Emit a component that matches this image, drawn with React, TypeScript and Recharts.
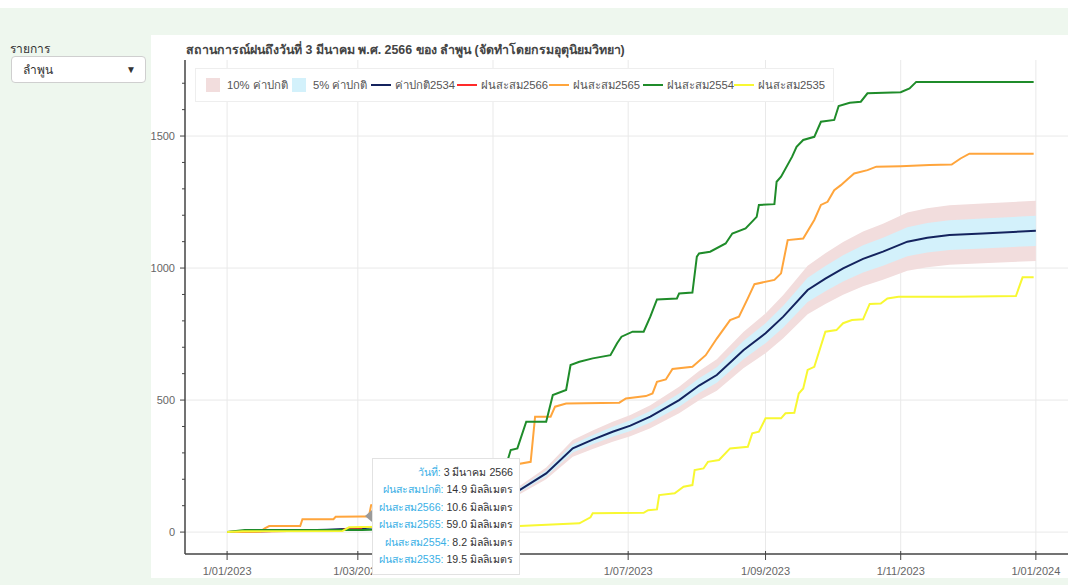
import React from "react";
import { ComposedChart, Line, Area, XAxis, YAxis, CartesianGrid } from "recharts";

// x values are day-of-year offsets from 1 Jan 2023
const xTicks = [0, 59, 120, 181, 243, 304, 365];
const xTickLabels = ["1/01/2023", "1/03/2023", "1/05/2023", "1/07/2023", "1/09/2023", "1/11/2023", "1/01/2024"];
const yTicks = [0, 100, 200, 300, 400, 500, 600, 700, 800, 900, 1000, 1100, 1200, 1300, 1400, 1500, 1600, 1700];
const yMajorTicks = [0, 500, 1000, 1500];

const normalDays = [0, 15, 31, 45, 61, 75, 90, 105, 120, 132, 144, 156, 165, 174, 182, 191, 204, 213, 221, 233, 243, 251, 262, 270, 278, 287, 296, 307, 316, 326, 341, 365];
const normalRain = [0, 3, 6, 9, 14.9, 25, 45, 75, 115, 159, 222, 317, 350, 380, 403, 437, 500, 555, 595, 689, 753, 816, 917, 960, 999, 1035, 1062, 1100, 1115, 1125, 1131, 1141];

const days2566 = [0, 10, 20, 35, 50, 53, 61];
const rain2566 = [0, 2, 3, 5, 6, 10, 10.6];

const days2565 = [0, 15, 17, 19, 33, 34, 48, 49, 61, 64, 65, 80, 95, 110, 120, 129, 137, 139, 146, 148, 153, 177, 180, 189, 192, 194, 198, 201, 210, 216, 221, 227, 231, 235, 238, 247, 250, 253, 260, 265, 268, 271, 274, 277, 280, 283, 289, 293, 304, 317, 327, 331, 335, 364];
const rain2565 = [0, 2, 14, 23, 23, 49, 49, 58, 59, 59, 102, 110, 140, 180, 220, 254, 266, 437, 437, 475, 487, 490, 506, 515, 525, 569, 578, 618, 626, 670, 733, 803, 816, 885, 939, 955, 980, 1106, 1112, 1182, 1239, 1251, 1295, 1314, 1336, 1358, 1371, 1384, 1386, 1390, 1392, 1415, 1433, 1433];

const days2554 = [0, 8, 61, 90, 110, 120, 124, 128, 131, 135, 144, 147, 153, 155, 159, 165, 173, 176, 178, 183, 188, 191, 194, 203, 204, 210, 212, 213, 218, 225, 228, 234, 239, 240, 247, 248, 250, 255, 257, 260, 265, 268, 274, 276, 281, 286, 289, 304, 308, 311, 364];
const rain2554 = [0, 8, 8.2, 15, 40, 110, 200, 311, 317, 418, 418, 519, 538, 633, 645, 658, 670, 715, 740, 759, 759, 816, 881, 885, 904, 907, 1043, 1055, 1062, 1093, 1131, 1150, 1194, 1239, 1242, 1327, 1346, 1422, 1459, 1485, 1497, 1554, 1561, 1614, 1626, 1630, 1662, 1666, 1680, 1705, 1705];

const days2535 = [0, 7, 52, 55, 61, 100, 132, 159, 164, 165, 188, 190, 194, 195, 202, 206, 210, 211, 215, 217, 222, 227, 235, 237, 240, 243, 250, 252, 256, 258, 260, 262, 265, 270, 275, 278, 282, 287, 290, 295, 298, 303, 329, 356, 359, 364];
const rain2535 = [0, 3, 4, 18, 19.5, 21, 23, 33, 56, 71, 73, 83, 86, 140, 147, 172, 178, 235, 241, 266, 273, 317, 323, 374, 380, 431, 431, 450, 452, 525, 544, 614, 626, 759, 765, 791, 803, 806, 864, 866, 885, 891, 891, 894, 965, 965];

const tipLabels = ["วันที่", "ฝนสะสมปกติ", "ฝนสะสม2566", "ฝนสะสม2565", "ฝนสะสม2554", "ฝนสะสม2535"];
const tipValues = ["3 มีนาคม 2566", "14.9 มิลลิเมตร", "10.6 มิลลิเมตร", "59.0 มิลลิเมตร", "8.2 มิลลิเมตร", "19.5 มิลลิเมตร"];

const FONT = "'Liberation Sans', Arial, sans-serif";

const toPoints = (days: number[], vals: number[]) => days.map((d, i) => ({ d, v: vals[i] }));

const bandData = normalDays.map((d, i) => {
  const n = normalRain[i];
  return { d, v: n, b10: [n * 0.9, n * 1.1], b5: [n * 0.95, n * 1.05] };
});

const legendItems = [
  { label: "10% ค่าปกติ", color: "#f2dddd", patch: true, w: 86 },
  { label: "5% ค่าปกติ", color: "#d3f1fb", patch: true, w: 79 },
  { label: "ค่าปกติ2534", color: "#14235e", patch: false, w: 86 },
  { label: "ฝนสะสม2566", color: "#ff2a2a", patch: false, w: 92 },
  { label: "ฝนสะสม2565", color: "#ffa53c", patch: false, w: 94 },
  { label: "ฝนสะสม2554", color: "#1f8c2a", patch: false, w: 91 },
  { label: "ฝนสะสม2535", color: "#f8f832", patch: false, w: 0 },
];

const XTick = (props: any) => {
  const { x, y, payload } = props;
  const label = xTickLabels[xTicks.indexOf(payload.value)];
  return (
    <g>
      <line x1={x} x2={x} y1={y - 3} y2={y + 6} stroke="#444" />
      <text x={x} y={y + 21} textAnchor="middle" fontSize={11} fill="#666" fontFamily={FONT}>
        {label}
      </text>
    </g>
  );
};

const YTick = (props: any) => {
  const { x, y, payload } = props;
  const major = yMajorTicks.includes(payload.value);
  return (
    <g>
      <line x1={x - (major ? 5 : 3)} x2={x} y1={y} y2={y} stroke="#444" />
      {major && (
        <text x={x - 10} y={y + 4} textAnchor="end" fontSize={11} fill="#666" fontFamily={FONT}>
          {payload.value}
        </text>
      )}
    </g>
  );
};

function LegendBox() {
  return (
    <div
      style={{
        position: "absolute",
        left: 44,
        top: 33,
        height: 34,
        width: 639,
        boxSizing: "border-box",
        border: "1px solid #eeeeee",
        background: "#fff",
        display: "flex",
        alignItems: "center",
        paddingLeft: 10,
        fontSize: 11.3,
        color: "#555",
        fontFamily: FONT,
        whiteSpace: "nowrap",
      }}
    >
      {legendItems.map((it) => (
        <div
          key={it.label}
          style={{ display: "flex", alignItems: "center", flex: "none", width: it.w || undefined, overflow: "visible" }}
        >
          {it.patch ? (
            <span style={{ width: 14, height: 14, background: it.color, marginRight: 7, flex: "none" }} />
          ) : (
            <span style={{ width: 20, height: 2, background: it.color, marginRight: 4, flex: "none" }} />
          )}
          <span>{it.label}</span>
        </div>
      ))}
    </div>
  );
}

function TooltipBox() {
  return (
    <div
      style={{
        position: "absolute",
        left: 221,
        top: 423,
        width: 148,
        height: 117,
        boxSizing: "border-box",
        background: "#fff",
        border: "1px solid #e2e2e2",
        padding: "5px 6px 0 4px",
        fontSize: 10.6,
        fontFamily: FONT,
        textAlign: "right",
        lineHeight: "17.4px",
      }}
    >
      <div
        style={{
          position: "absolute",
          left: -8,
          top: 51,
          width: 0,
          height: 0,
          borderTop: "6px solid transparent",
          borderBottom: "6px solid transparent",
          borderRight: "7px solid #9a9a9a",
        }}
      />
      {tipLabels.map((l, i) => (
        <div key={l} style={{ whiteSpace: "nowrap" }}>
          <span style={{ color: "#3ab0e6" }}>{l}:</span> <span style={{ color: "#333" }}>{tipValues[i]}</span>
        </div>
      ))}
    </div>
  );
}

export default function App() {
  return (
    <div style={{ position: "relative", width: 1068, height: 585, background: "#fff", fontFamily: FONT }}>
      <style>{`body{margin:0}`}</style>
      <div style={{ position: "absolute", left: 0, top: 8, width: 1068, height: 577, background: "#eef7ee" }} />
      <div style={{ position: "absolute", left: 10, top: 39, fontSize: 12, color: "#333" }}>รายการ</div>
      <div
        style={{
          position: "absolute",
          left: 11,
          top: 56,
          width: 135,
          height: 27,
          boxSizing: "border-box",
          background: "#fff",
          border: "1px solid #cfcfcf",
          borderRadius: 4,
          fontSize: 12,
          color: "#333",
          display: "flex",
          alignItems: "center",
          justifyContent: "space-between",
          padding: "0 9px 0 11px",
        }}
      >
        <span>ลำพูน</span>
        <span style={{ fontSize: 10 }}>▼</span>
      </div>

      <div style={{ position: "absolute", left: 151, top: 35, width: 917, height: 543, background: "#fff" }}>
        <div
          style={{
            position: "absolute",
            left: 35,
            top: 5,
            fontSize: 12.4,
            fontWeight: "bold",
            color: "#444",
            whiteSpace: "nowrap",
          }}
        >
          สถานการณ์ฝนถึงวันที่ 3 มีนาคม พ.ศ. 2566 ของ ลำพูน (จัดทำโดยกรมอุตุนิยมวิทยา)
        </div>
        <ComposedChart width={917} height={543} margin={{ top: 25, right: 0, bottom: 0, left: 0 }}>
          <CartesianGrid
            stroke="#e9e9e9"
            horizontalValues={yMajorTicks}
            verticalValues={xTicks}
          />
          <XAxis
            type="number"
            dataKey="d"
            domain={[-19, 379.5]}
            ticks={xTicks}
            interval={0}
            allowDataOverflow
            height={24}
            tickSize={0}
            tickMargin={0}
            tickLine={false}
            axisLine={{ stroke: "#444", strokeWidth: 1.5 }}
            tick={<XTick />}
          />
          <YAxis
            type="number"
            domain={[-83, 1788]}
            ticks={yTicks}
            interval={0}
            allowDataOverflow
            width={34}
            tickSize={0}
            tickMargin={0}
            tickLine={false}
            axisLine={{ stroke: "#444", strokeWidth: 1.5 }}
            tick={<YTick />}
          />
          <Area data={bandData} dataKey="b10" type="linear" stroke="none" fill="#f2dddd" fillOpacity={1} isAnimationActive={false} />
          <Area data={bandData} dataKey="b5" type="linear" stroke="none" fill="#d3f1fb" fillOpacity={1} isAnimationActive={false} />
          <Line data={bandData} dataKey="v" type="linear" stroke="#14235e" strokeWidth={2} dot={false} isAnimationActive={false} />
          <Line data={toPoints(days2566, rain2566)} dataKey="v" type="linear" stroke="#ff2a2a" strokeWidth={2} dot={false} isAnimationActive={false} />
          <Line data={toPoints(days2565, rain2565)} dataKey="v" type="linear" stroke="#ffa53c" strokeWidth={2} dot={false} isAnimationActive={false} />
          <Line data={toPoints(days2554, rain2554)} dataKey="v" type="linear" stroke="#1f8c2a" strokeWidth={2} dot={false} isAnimationActive={false} />
          <Line data={toPoints(days2535, rain2535)} dataKey="v" type="linear" stroke="#f8f832" strokeWidth={2} dot={false} isAnimationActive={false} />
        </ComposedChart>
        <LegendBox />
        <TooltipBox />
      </div>
    </div>
  );
}
